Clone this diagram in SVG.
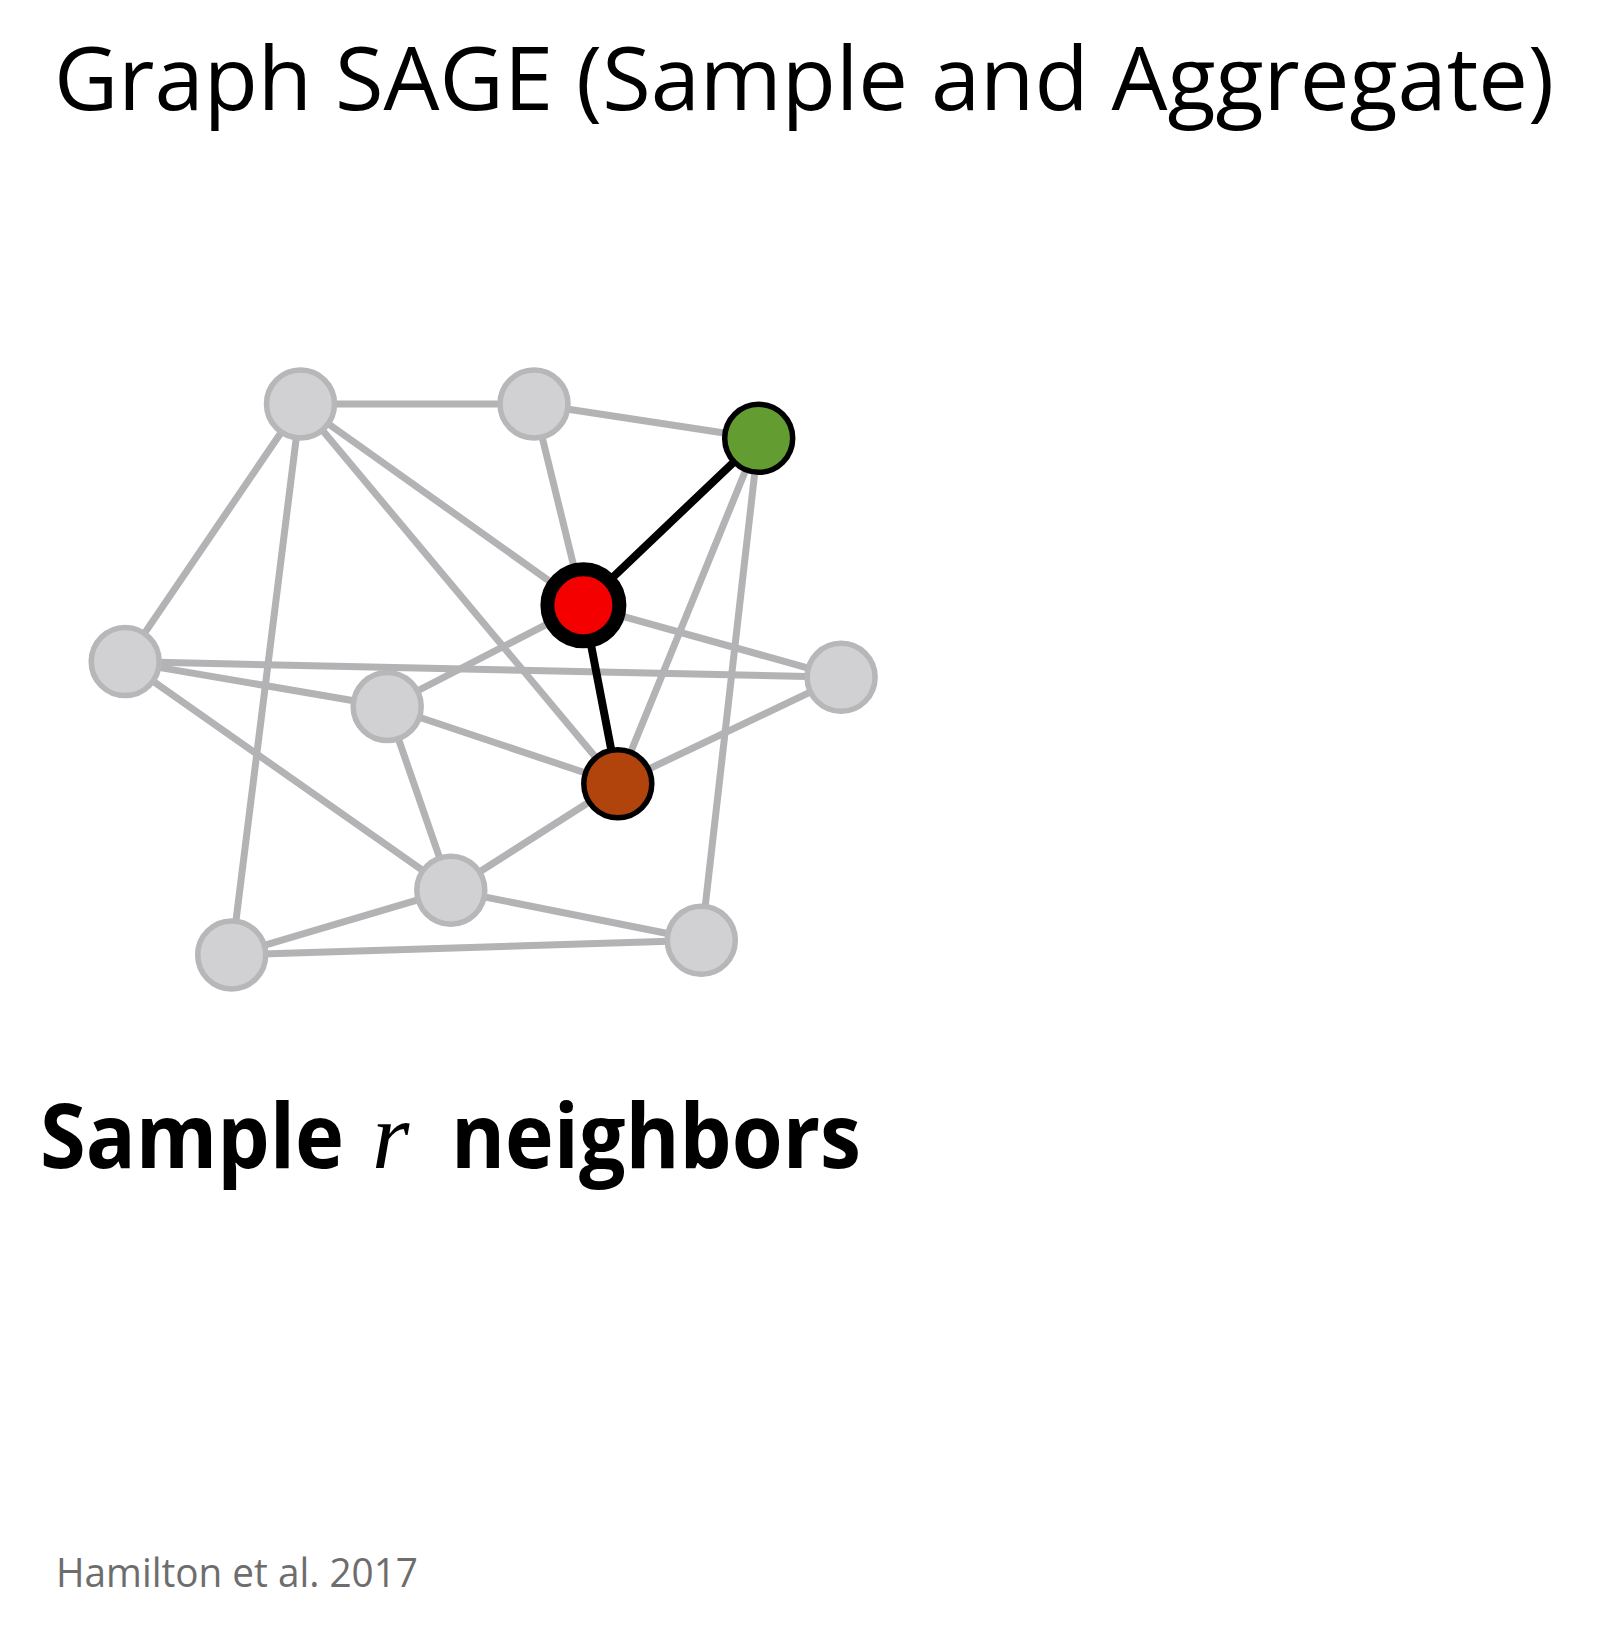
<svg xmlns="http://www.w3.org/2000/svg" width="1604" height="1636" viewBox="0 0 1604 1636">
<style>
.edge{stroke:#b3b2b4;stroke-width:7;stroke-linecap:round}
.sel{stroke:#000;stroke-width:8;stroke-linecap:round}
.gray{fill:#d1d0d3;stroke:#b7b6b8;stroke-width:5.5}
.t{font-family:"Open Sans","Liberation Sans",sans-serif;fill:#000}
</style>
<rect width="1604" height="1636" fill="#fff"/>
<text class="t" x="54" y="110" font-size="88" textLength="1500" lengthAdjust="spacingAndGlyphs">Graph SAGE (Sample and Aggregate)</text>
<g id="edges">
<line class="edge" x1="300.5" y1="404" x2="534" y2="404"/>
<line class="edge" x1="534" y1="404" x2="758.7" y2="438.3"/>
<line class="edge" x1="300.5" y1="404" x2="125.2" y2="661.6"/>
<line class="edge" x1="300.5" y1="404" x2="231.7" y2="954.9"/>
<line class="edge" x1="300.5" y1="404" x2="583.4" y2="605.3"/>
<line class="edge" x1="300.5" y1="404" x2="617.8" y2="783.8"/>
<line class="edge" x1="534" y1="404" x2="583.4" y2="605.3"/>
<line class="edge" x1="758.7" y1="438.3" x2="617.8" y2="783.8"/>
<line class="edge" x1="758.7" y1="438.3" x2="701.3" y2="940.3"/>
<line class="edge" x1="583.4" y1="605.3" x2="387.2" y2="706.5"/>
<line class="edge" x1="583.4" y1="605.3" x2="841.1" y2="677.3"/>
<line class="edge" x1="125.2" y1="661.6" x2="841.1" y2="677.3"/>
<line class="edge" x1="125.2" y1="661.6" x2="387.2" y2="706.5"/>
<line class="edge" x1="125.2" y1="661.6" x2="450.8" y2="890.2"/>
<line class="edge" x1="387.2" y1="706.5" x2="617.8" y2="783.8"/>
<line class="edge" x1="387.2" y1="706.5" x2="450.8" y2="890.2"/>
<line class="edge" x1="841.1" y1="677.3" x2="617.8" y2="783.8"/>
<line class="edge" x1="617.8" y1="783.8" x2="450.8" y2="890.2"/>
<line class="edge" x1="450.8" y1="890.2" x2="231.7" y2="954.9"/>
<line class="edge" x1="450.8" y1="890.2" x2="701.3" y2="940.3"/>
<line class="edge" x1="231.7" y1="954.9" x2="701.3" y2="940.3"/>
<line class="sel" x1="583.4" y1="605.3" x2="758.7" y2="438.3"/>
<line class="sel" x1="583.4" y1="605.3" x2="617.8" y2="783.8"/>
</g>
<g id="nA"><circle class="gray" cx="300.5" cy="404" r="34"/></g>
<g id="nB"><circle class="gray" cx="534" cy="404" r="34"/></g>
<g id="nL"><circle class="gray" cx="125.2" cy="661.6" r="34"/></g>
<g id="nM"><circle class="gray" cx="387.2" cy="706.5" r="34"/></g>
<g id="nR"><circle class="gray" cx="841.1" cy="677.3" r="34"/></g>
<g id="nC"><circle class="gray" cx="450.8" cy="890.2" r="34"/></g>
<g id="nBL"><circle class="gray" cx="231.7" cy="954.9" r="34"/></g>
<g id="nBR"><circle class="gray" cx="701.3" cy="940.3" r="34"/></g>
<g id="nGreen"><circle cx="758.7" cy="438.3" r="34" fill="#639d32" stroke="#000" stroke-width="5.5"/></g>
<g id="nBrown"><circle cx="617.8" cy="783.8" r="34" fill="#b0440c" stroke="#000" stroke-width="5.5"/></g>
<g id="nRed"><circle cx="583.4" cy="605.3" r="36" fill="#f50000" stroke="#000" stroke-width="14"/></g>
<text class="t" y="1168" font-size="90" font-weight="700"><tspan x="40" textLength="304" lengthAdjust="spacingAndGlyphs">Sample</tspan><tspan x="372" font-family="'Liberation Serif',serif" font-style="italic" font-weight="400" font-size="96">r</tspan><tspan x="451" textLength="410" lengthAdjust="spacingAndGlyphs">neighbors</tspan></text>
<text class="t" x="56" y="1587" font-size="40" style="fill:#6d6d6d" textLength="362" lengthAdjust="spacingAndGlyphs">Hamilton et al. 2017</text>
</svg>
